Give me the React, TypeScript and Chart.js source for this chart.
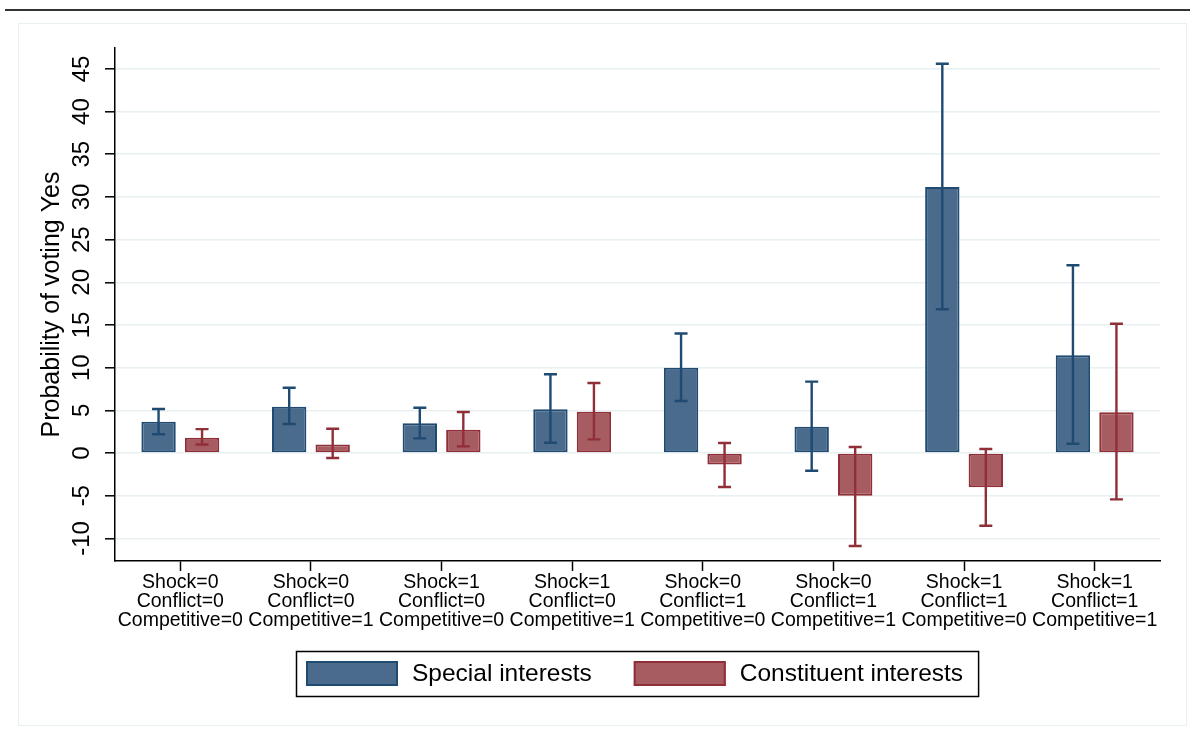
import React, { useEffect, useRef } from "react";
import { Chart, registerables } from "chart.js";

Chart.register(...registerables);

const shock = [0, 0, 1, 1, 0, 0, 1, 1];
const conflict = [0, 0, 0, 0, 1, 1, 1, 1];
const competitive = [0, 1, 0, 1, 0, 1, 0, 1];

const categories = shock.map((s, i) => [
  `Shock=${s}`,
  `Conflict=${conflict[i]}`,
  `Competitive=${competitive[i]}`,
]);

const specialInterests = [3.65, 5.43, 3.48, 5.12, 10.0, 3.09, 31.17, 11.45];
const specialLow = [2.2, 3.4, 1.72, 1.21, 6.1, -2.07, 16.84, 1.09];
const specialHigh = [5.16, 7.65, 5.31, 9.22, 14.0, 8.36, 45.6, 22.0];

const constituentInterests = [1.8, 1.0, 2.73, 4.84, -1.33, -5.0, -4.02, 4.77];
const constituentLow = [1.0, -0.59, 0.78, 1.6, -3.98, -10.9, -8.52, -5.43];
const constituentHigh = [2.8, 2.85, 4.8, 8.2, 1.17, 0.7, 0.47, 15.15];

const yTicks = [-10, -5, 0, 5, 10, 15, 20, 25, 30, 35, 40, 45];
const yMin = -12.65;
const yMax = 47.45;

const seriesLabels = ["Special interests", "Constituent interests"];

const FONT = "'Liberation Sans', Arial, Helvetica, sans-serif";
const BLUE_FILL = "#4a6b8b";
const BLUE_LINE = "#1f4a72";
const RED_FILL = "#a65c61";
const RED_LINE = "#902f37";
const GRID = "#e9f0f2";

const errorBarPlugin = {
  id: "errorBars",
  afterDatasetsDraw(chart: any) {
    const ctx = chart.ctx;
    const yScale = chart.scales.y;
    chart.data.datasets.forEach((ds: any, i: number) => {
      const meta = chart.getDatasetMeta(i);
      meta.data.forEach((el: any, j: number) => {
        const x = el.x;
        const yLo = yScale.getPixelForValue(ds.errLow[j]);
        const yHi = yScale.getPixelForValue(ds.errHigh[j]);
        ctx.save();
        ctx.strokeStyle = ds.errColor;
        ctx.lineWidth = 2.4;
        ctx.beginPath();
        ctx.moveTo(x, yLo);
        ctx.lineTo(x, yHi);
        ctx.moveTo(x - 6.5, yLo);
        ctx.lineTo(x + 6.5, yLo);
        ctx.moveTo(x - 6.5, yHi);
        ctx.lineTo(x + 6.5, yHi);
        ctx.stroke();
        ctx.restore();
      });
    });
  },
};

const decorPlugin = {
  id: "decor",
  beforeDraw(chart: any) {
    const ctx = chart.ctx;
    ctx.save();
    ctx.fillStyle = "#ffffff";
    ctx.fillRect(0, 0, chart.width, chart.height);
    ctx.strokeStyle = "#eaf0f0";
    ctx.lineWidth = 1.2;
    ctx.strokeRect(18.5, 23.5, 1168, 702);
    ctx.strokeStyle = "#333333";
    ctx.lineWidth = 2;
    ctx.beginPath();
    ctx.moveTo(5, 10);
    ctx.lineTo(chart.width, 10);
    ctx.stroke();
    ctx.restore();
  },
};

const boxLegendPlugin = {
  id: "boxLegend",
  afterDraw(chart: any) {
    const ctx = chart.ctx;
    const area = chart.chartArea;
    ctx.save();
    ctx.font = `24.5px ${FONT}`;
    const swatchW = 92;
    const swatchH = 25;
    const padL = 10;
    const padR = 15;
    const gapText = 14;
    const gapItem = 42;
    const items = chart.data.datasets.map((ds: any) => ({
      label: ds.label,
      fill: ds.backgroundColor,
      line: ds.borderColor,
      w: ctx.measureText(ds.label).width,
    }));
    let total = padL + padR;
    items.forEach((it: any, k: number) => {
      total += swatchW + gapText + it.w + (k > 0 ? gapItem : 0);
    });
    const boxH = 45;
    const cx = (area.left + area.right) / 2;
    const left = Math.round(cx - total / 2);
    const top = area.bottom + 90;
    ctx.strokeStyle = "#000000";
    ctx.lineWidth = 1.5;
    ctx.strokeRect(left + 0.5, top + 0.5, total, boxH);
    let x = left + padL;
    const cy = top + boxH / 2;
    items.forEach((it: any, k: number) => {
      if (k > 0) x += gapItem;
      ctx.fillStyle = it.fill;
      ctx.fillRect(x, cy - swatchH / 2, swatchW, swatchH);
      ctx.strokeStyle = it.line;
      ctx.lineWidth = 2;
      ctx.strokeRect(x + 1, cy - swatchH / 2 + 1, swatchW - 2, swatchH - 2);
      x += swatchW + gapText;
      ctx.fillStyle = "#000000";
      ctx.textBaseline = "middle";
      ctx.textAlign = "left";
      ctx.fillText(it.label, x, cy + 1);
      x += it.w;
    });
    ctx.restore();
  },
};

export default function App() {
  const ref = useRef<HTMLCanvasElement | null>(null);

  useEffect(() => {
    if (!ref.current) return;
    const chart = new Chart(ref.current, {
      type: "bar",
      data: {
        labels: categories,
        datasets: [
          {
            label: seriesLabels[0],
            data: specialInterests,
            backgroundColor: BLUE_FILL,
            borderColor: BLUE_LINE,
            borderWidth: 2,
            borderSkipped: false,
            errLow: specialLow,
            errHigh: specialHigh,
            errColor: BLUE_LINE,
          } as any,
          {
            label: seriesLabels[1],
            data: constituentInterests,
            backgroundColor: RED_FILL,
            borderColor: RED_LINE,
            borderWidth: 2,
            borderSkipped: false,
            errLow: constituentLow,
            errHigh: constituentHigh,
            errColor: RED_LINE,
          } as any,
        ],
      },
      options: {
        responsive: false,
        animation: false,
        devicePixelRatio: 1,
        categoryPercentage: 0.666,
        barPercentage: 0.79,
        layout: { padding: { left: 0, top: 48, right: 30, bottom: 97 } },
        plugins: {
          legend: { display: false },
          tooltip: { enabled: false },
        },
        scales: {
          x: {
            offset: true,
            afterFit: (s: any) => {
              s.height = 75;
            },
            grid: {
              offset: false,
              drawOnChartArea: false,
              drawTicks: true,
              tickLength: 10,
              tickColor: "#000000",
              tickWidth: 1.5,
            },
            border: { display: true, color: "#000000", width: 1.5 },
            ticks: {
              autoSkip: false,
              maxRotation: 0,
              minRotation: 0,
              padding: 2.5,
              color: "#000000",
              font: { family: FONT, size: 19.5, lineHeight: 0.975 },
            },
          },
          y: {
            min: yMin,
            max: yMax,
            afterFit: (s: any) => {
              s.width = 115;
            },
            afterBuildTicks: (s: any) => {
              s.ticks = yTicks.map((v) => ({ value: v }));
            },
            grid: {
              color: GRID,
              lineWidth: 1.6,
              drawTicks: true,
              tickLength: 10,
              tickColor: "#000000",
              tickWidth: 1.5,
            },
            border: { display: true, color: "#000000", width: 1.5 },
            ticks: {
              includeBounds: false,
              minRotation: 90,
              maxRotation: 90,
              crossAlign: "center",
              padding: 5,
              color: "#000000",
              font: { family: FONT, size: 24 },
              callback: (v: any) => String(v),
            },
            title: {
              display: true,
              text: "Probability of voting Yes",
              color: "#000000",
              font: { family: FONT, size: 25, lineHeight: 1.2 },
              padding: { top: 37, bottom: 0 },
            },
          },
        },
      } as any,
      plugins: [decorPlugin, errorBarPlugin, boxLegendPlugin],
    });
    return () => chart.destroy();
  }, []);

  return (
    <canvas
      ref={ref}
      width={1190}
      height={733}
      style={{ position: "absolute", left: 0, top: 0, width: 1190, height: 733 }}
    />
  );
}
